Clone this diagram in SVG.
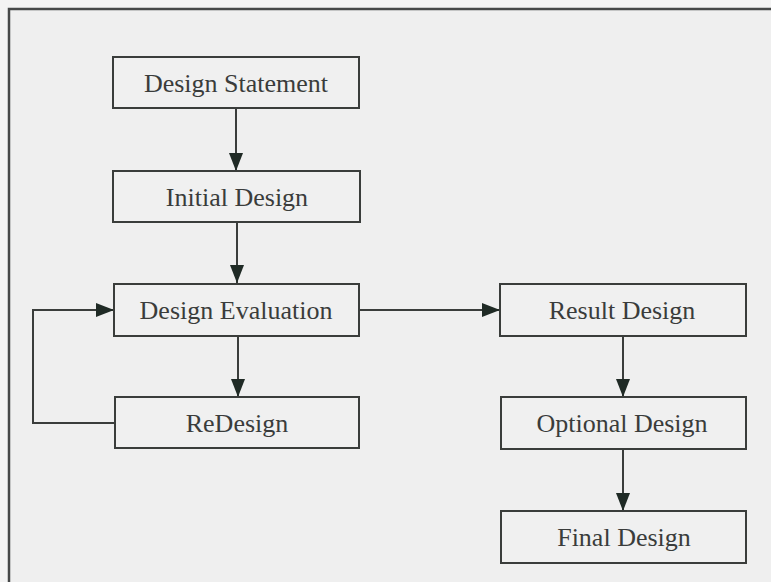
<svg xmlns="http://www.w3.org/2000/svg" width="771" height="582" viewBox="0 0 771 582">
  <defs>
    <marker id="arrow" markerWidth="18" markerHeight="14" refX="18" refY="7" orient="auto" markerUnits="userSpaceOnUse">
      <path d="M0,0 L18,7 L0,14 Z" fill="#1f2a25"/>
    </marker>
    <style>
      .box { fill: #f0f0f0; stroke: #3a3d3b; stroke-width: 2; }
      .label { font-family: "Liberation Serif", "Times New Roman", serif; font-size: 26px; fill: #3a3c3b; text-anchor: middle; }
      .link { fill: none; stroke: #3a3d3b; stroke-width: 2; marker-end: url(#arrow); }
      .frame { fill: none; stroke: #464848; stroke-width: 2.5; }
    </style>
  </defs>

  <rect x="0" y="0" width="771" height="582" fill="#f3f3f3"/>
  <rect x="9" y="9" width="762" height="573" fill="#efefef"/>
  <path class="frame" d="M9,582 L9,9 L771,9"/>

  <g id="connectors">
    <path class="link" d="M236,108 L236,171"/>
    <path class="link" d="M237,222 L237,283"/>
    <path class="link" d="M238,336 L238,397"/>
    <path class="link" d="M115,423 L33,423 L33,310 L114,310"/>
    <path class="link" d="M359,310 L500,310"/>
    <path class="link" d="M623,336 L623,397"/>
    <path class="link" d="M623,449 L623,511"/>
  </g>

  <g id="design-statement">
    <rect class="box" x="113" y="57" width="246" height="51"/>
    <text class="label" x="236" y="92">Design Statement</text>
  </g>
  <g id="initial-design">
    <rect class="box" x="113" y="171" width="247" height="51"/>
    <text class="label" x="237" y="206">Initial Design</text>
  </g>
  <g id="design-evaluation">
    <rect class="box" x="114" y="284" width="245" height="52"/>
    <text class="label" x="236" y="319">Design Evaluation</text>
  </g>
  <g id="redesign">
    <rect class="box" x="115" y="397" width="244" height="51"/>
    <text class="label" x="237" y="432">ReDesign</text>
  </g>
  <g id="result-design">
    <rect class="box" x="500" y="284" width="246" height="52"/>
    <text class="label" x="622" y="319">Result Design</text>
  </g>
  <g id="optional-design">
    <rect class="box" x="501" y="397" width="245" height="52"/>
    <text class="label" x="622" y="432">Optional Design</text>
  </g>
  <g id="final-design">
    <rect class="box" x="501" y="511" width="245" height="52"/>
    <text class="label" x="624" y="546">Final Design</text>
  </g>
</svg>
